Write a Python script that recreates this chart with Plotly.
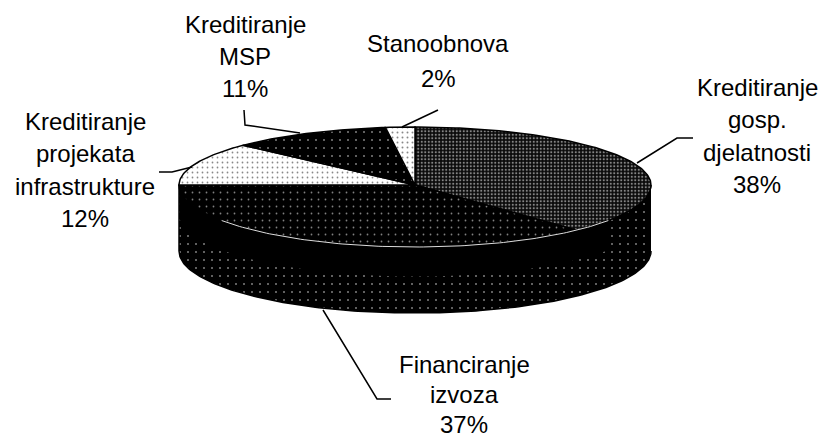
import numpy as np
import plotly.graph_objects as go

# Data
categories = ["Kreditiranje gosp. djelatnosti", "Financiranje izvoza",
              "Kreditiranje projekata infrastrukture", "Kreditiranje MSP", "Stanoobnova"]
values = [38, 37, 12, 11, 2]
label_lines = [["Kreditiranje", "gosp.", "djelatnosti", "38%"],
               ["Financiranje", "izvoza", "37%"],
               ["Kreditiranje", "projekata", "infrastrukture", "12%"],
               ["Kreditiranje", "MSP", "11%"],
               ["Stanoobnova", "2%"]]

# Layout of the drawing (pixel-like axes)
W, H = 822, 439
CX, CY, RX = 415, 185, 236
RY_BACK, RY_FRONT, DEPTH = 58, 62, 66
label_anchor = [(757, 87, 32.5), (464, 364, 30), (85, 121, 32.5), (245, 24, 32), (438, 43, 35)]
leaders = [([693, 677, 637], [138, 138, 163]),
           ([391, 377, 323], [399, 399, 310]),
           ([159, 172, 192], [172, 172, 167]),
           ([244, 245, 300], [110, 125, 133]),
           ([438, 402], [110, 127])]
styles = [dict(fg="white", bg="#0a0a0a", size=3.5, sol=0.30),
          dict(fg="white", bg="black", size=7, sol=0.05),
          dict(fg="#111111", bg="white", size=5, sol=0.10),
          dict(fg="white", bg="black", size=8, sol=0.05),
          dict(fg="#111111", bg="white", size=5, sol=0.12)]

def ell(theta_deg, depth=0.0):
    t = np.radians(theta_deg)
    c = np.cos(t)
    ry = np.where(c >= 0, RY_BACK, RY_FRONT)
    return CX + RX * np.sin(t), CY - ry * c + depth

fig = go.Figure()

# Side wall: stippled base + solid black band
th = np.linspace(90, 270, 181)
x1, y1 = ell(th)
x2, y2 = ell(th[::-1], DEPTH)
fig.add_trace(go.Scatter(x=np.r_[x1, x2], y=np.r_[y1, y2], mode="lines", fill="toself",
                         line=dict(color="black", width=1.5), hoverinfo="skip",
                         fillcolor="black",
                         fillpattern=dict(shape=".", fgcolor="white", bgcolor="black", size=8, solidity=0.05)))
th_band = np.linspace(125, 270, 146)
bx1, by1 = ell(th_band, 0)
bx2, by2 = ell(th_band[::-1], DEPTH * 0.45)
fig.add_trace(go.Scatter(x=np.r_[bx1, bx2], y=np.r_[by1, by2], mode="lines", fill="toself",
                         line=dict(color="black", width=0), fillcolor="black", hoverinfo="skip"))

# Top slices, clockwise from twelve o'clock
edges = np.r_[0, np.cumsum(values)] / sum(values) * 360
for i, v in enumerate(values):
    t = np.linspace(edges[i], edges[i + 1], max(int(v * 4), 8))
    x, y = ell(t)
    s = styles[i]
    fig.add_trace(go.Scatter(
        x=np.r_[CX, x, CX], y=np.r_[CY, y, CY], mode="lines", fill="toself",
        line=dict(color="black", width=1.5), name=categories[i], hoverinfo="name",
        fillpattern=dict(shape=".", fgcolor=s["fg"], bgcolor=s["bg"], size=s["size"], solidity=s["sol"])))

# Thin light rim along the front edge of the top face
th_rim = np.linspace(125, 235, 111)
rx, ry = ell(th_rim)
fig.add_trace(go.Scatter(x=rx, y=ry, mode="lines", line=dict(color="#dddddd", width=1), hoverinfo="skip"))

# Leader lines
for lx, ly in leaders:
    fig.add_trace(go.Scatter(x=lx, y=ly, mode="lines", line=dict(color="black", width=1.5), hoverinfo="skip"))

# Labels
for lines, (ax, ay, step) in zip(label_lines, label_anchor):
    for k, txt in enumerate(lines):
        fig.add_annotation(x=ax, y=ay + k * step, text=txt, showarrow=False, xanchor="center", yanchor="middle",
                           font=dict(family="Liberation Sans", size=24, color="black"))

fig.update_layout(width=W, height=H, margin=dict(l=0, r=0, t=0, b=0), showlegend=False,
                  paper_bgcolor="white", plot_bgcolor="white",
                  xaxis=dict(range=[0, W], visible=False, fixedrange=True),
                  yaxis=dict(range=[H, 0], visible=False, fixedrange=True))
fig.write_html("out.html", config={"displayModeBar": False},
               post_script="document.body.style.margin='0';document.documentElement.style.overflow='hidden';")
